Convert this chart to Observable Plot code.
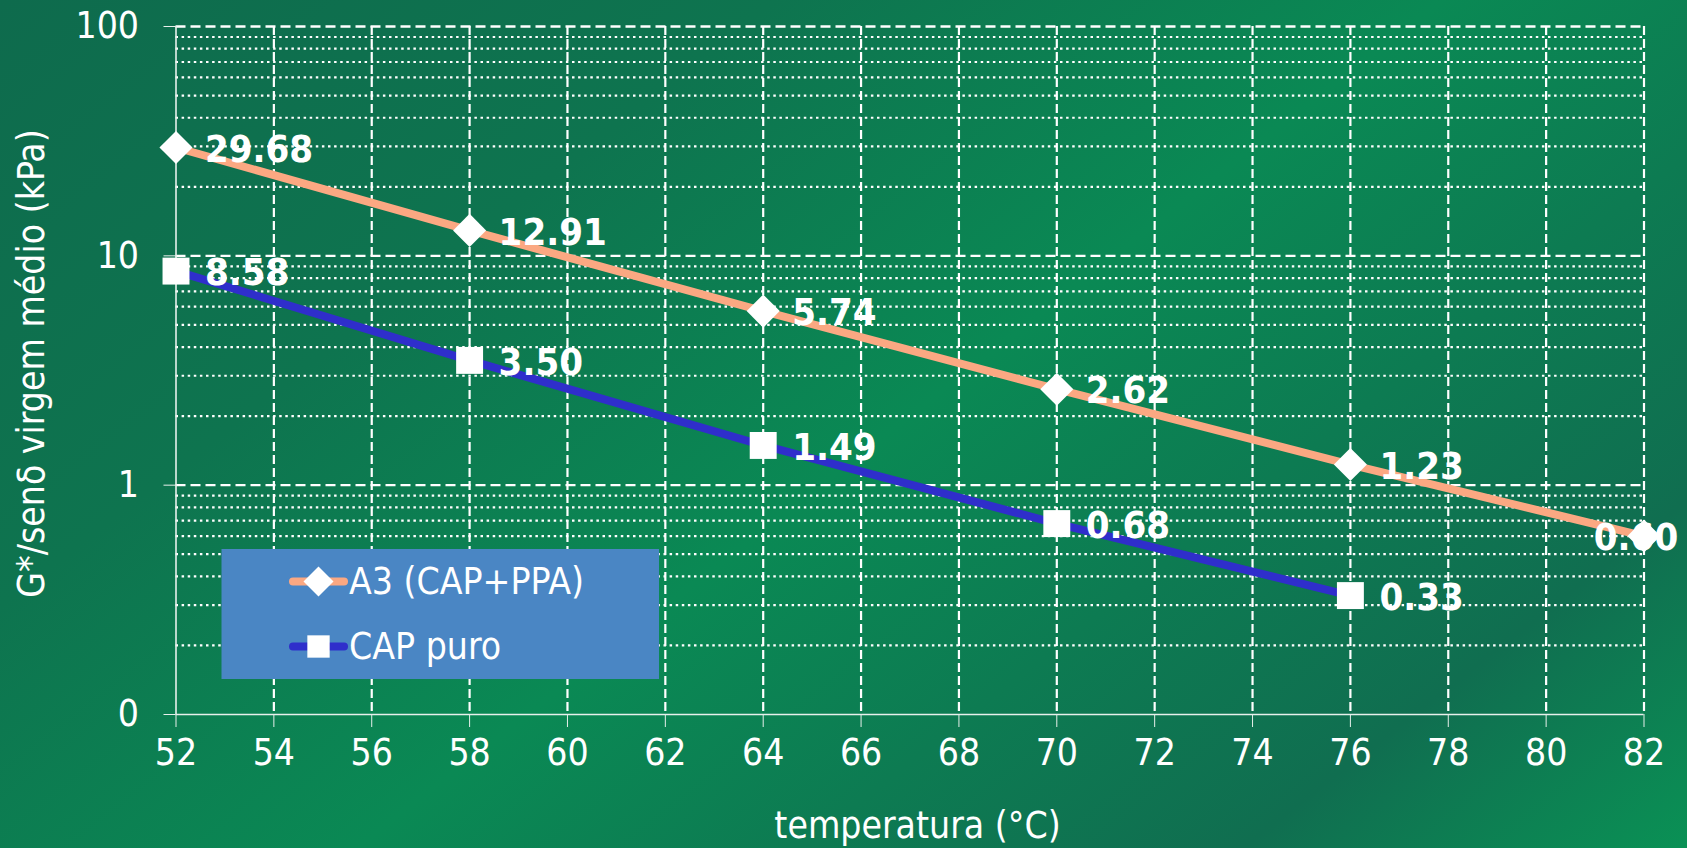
<!DOCTYPE html>
<html>
<head>
<meta charset="utf-8">
<script src="https://cdn.jsdelivr.net/npm/d3@7"></script>
<script src="https://cdn.jsdelivr.net/npm/@observablehq/plot@0.6"></script>
<style>
  html, body { margin: 0; padding: 0; width: 1687px; height: 848px; overflow: hidden; }
  body {
    background: linear-gradient(142deg, #0e6b4d 0%, #0e744f 28%, #0a8954 52%, #0d7b52 68%, #106e50 84%, #0a9155 100%);
    font-family: "DejaVu Sans Condensed", "DejaVu Sans", sans-serif;
    font-stretch: condensed;
  }
  #chart svg { display: block; }
</style>
</head>
<body>
<div id="chart"></div>
<script>
// ---- data ----
const temps = [52, 58, 64, 70, 76, 82];
const a3Values = [29.68, 12.91, 5.74, 2.62, 1.23, 0.60];
const capTemps = [52, 58, 64, 70, 76];
const capValues = [8.58, 3.50, 1.49, 0.68, 0.33];
const seriesNames = ["A3 (CAP+PPA)", "CAP puro"];
const seriesColors = ["#fba882", "#2f2ecb"];
const seriesSymbols = ["diamond2", "square"];
const xTicks = [52, 54, 56, 58, 60, 62, 64, 66, 68, 70, 72, 74, 76, 78, 80, 82];
const yMajorTicks = [0.1, 1, 10, 100];
const yTickLabels = ["0", "1", "10", "100"];
const xLabel = "temperatura (°C)";
const yLabel = "G*/senδ virgem médio (kPa)";

const a3 = temps.map((t, i) => ({t, v: a3Values[i]}));
const cap = capTemps.map((t, i) => ({t, v: capValues[i]}));
const yMinorTicks = d3.scaleLog().domain([0.1, 100]).ticks().filter(d => !yMajorTicks.some(m => Math.abs(m - d) < 1e-9));
const fmt = d3.format(".2f");
const FONT = "DejaVu Sans Condensed, DejaVu Sans, sans-serif";

const W = 1687, H = 848;
const plot = Plot.plot({
  width: W,
  height: H,
  marginLeft: 175.5,
  marginRight: 43.5,
  marginTop: 26,
  marginBottom: 134,
  style: {background: "transparent", color: "white", fontFamily: FONT, fontSize: "36px"},
  x: {domain: [52, 82], type: "linear"},
  y: {type: "log", domain: [0.1, 100]},
  marks: [
    // minor grid (dotted)
    Plot.ruleY(yMinorTicks, {stroke: "white", strokeWidth: 2.2, strokeDasharray: "2.5,3.6"}),
    // major horizontal grid (dashed)
    Plot.ruleY(yMajorTicks.filter(d => d > 0.1), {stroke: "white", strokeWidth: 2.4, strokeDasharray: "10,5"}),
    // vertical grid (dashed)
    Plot.ruleX(xTicks.filter(d => d > 52), {stroke: "white", strokeWidth: 2.2, strokeDasharray: "9,4"}),
    // axis lines
    Plot.ruleX([52], {stroke: "#e8f0ec", strokeWidth: 1.6}),
    Plot.ruleY([0.1], {stroke: "#e8f0ec", strokeWidth: 1.6}),
    Plot.axisY({ticks: yMajorTicks, tickFormat: d => yTickLabels[yMajorTicks.indexOf(d)], tickSize: 12, tickPadding: 25, label: null, stroke: "#e8f0ec", fontSize: 37}),
    Plot.axisX({ticks: xTicks, tickFormat: d => String(d), tickSize: 13, tickPadding: 11, label: null, stroke: "#e8f0ec", fontSize: 37}),
    // axis titles
    Plot.text([yLabel], {frameAnchor: "left", textAnchor: "middle", lineAnchor: "middle", dx: -143.5, dy: -7, rotate: -90, fill: "white", fontSize: 37}),
    Plot.text([xLabel], {frameAnchor: "bottom", textAnchor: "middle", lineAnchor: "middle", dx: 7.5, dy: 112, fill: "white", fontSize: 37}),
    // lines
    Plot.line(a3, {x: "t", y: "v", stroke: seriesColors[0], strokeWidth: 8}),
    Plot.line(cap, {x: "t", y: "v", stroke: seriesColors[1], strokeWidth: 8}),
    // value labels
    Plot.text(a3.filter(d => d.t < 82), {x: "t", y: "v", text: d => fmt(d.v), textAnchor: "start", dx: 29, dy: 2, fill: "white", fontWeight: "bold", fontSize: 38}),
    Plot.text(a3.filter(d => d.t >= 82), {x: "t", y: "v", text: d => fmt(d.v), textAnchor: "middle", dx: -8, dy: 2, fill: "white", fontWeight: "bold", fontSize: 38}),
    Plot.text(cap, {x: "t", y: "v", text: d => fmt(d.v), textAnchor: "start", dx: 29, dy: 2, fill: "white", fontWeight: "bold", fontSize: 38}),
    // markers
    Plot.dot(a3, {x: "t", y: "v", symbol: seriesSymbols[0], r: 14.9, fill: "white", stroke: "none"}),
    Plot.dot(cap, {x: "t", y: "v", symbol: seriesSymbols[1], r: 15.2, fill: "white", stroke: "none"})
  ]
});
document.getElementById("chart").appendChild(plot);

// ---- legend (inside the SVG) ----
const svg = d3.select(plot);
const lg = svg.append("g").attr("class", "legend").attr("text-anchor", "start");
lg.append("rect").attr("x", 221.5).attr("y", 549).attr("width", 437.5).attr("height", 130).attr("fill", "#4a86c4");
const rowY = [581.5, 646.5];
const symGen = {diamond2: d3.symbol(d3.symbolDiamond2, Math.PI * 13.5 * 13.5), square: d3.symbol(d3.symbolSquare, Math.PI * 12.6 * 12.6)};
seriesNames.forEach((name, i) => {
  const y = rowY[i];
  lg.append("line").attr("x1", 293).attr("x2", 344).attr("y1", y).attr("y2", y)
    .attr("stroke", seriesColors[i]).attr("stroke-width", 8).attr("stroke-linecap", "round");
  lg.append("path").attr("d", symGen[seriesSymbols[i]]()).attr("transform", `translate(318.5,${y})`).attr("fill", "white");
  lg.append("text").attr("x", 349).attr("y", y).attr("dy", "0.35em").attr("fill", "white")
    .attr("text-anchor", "start").attr("font-size", 37).attr("font-family", FONT).text(name);
});
</script>
</body>
</html>
